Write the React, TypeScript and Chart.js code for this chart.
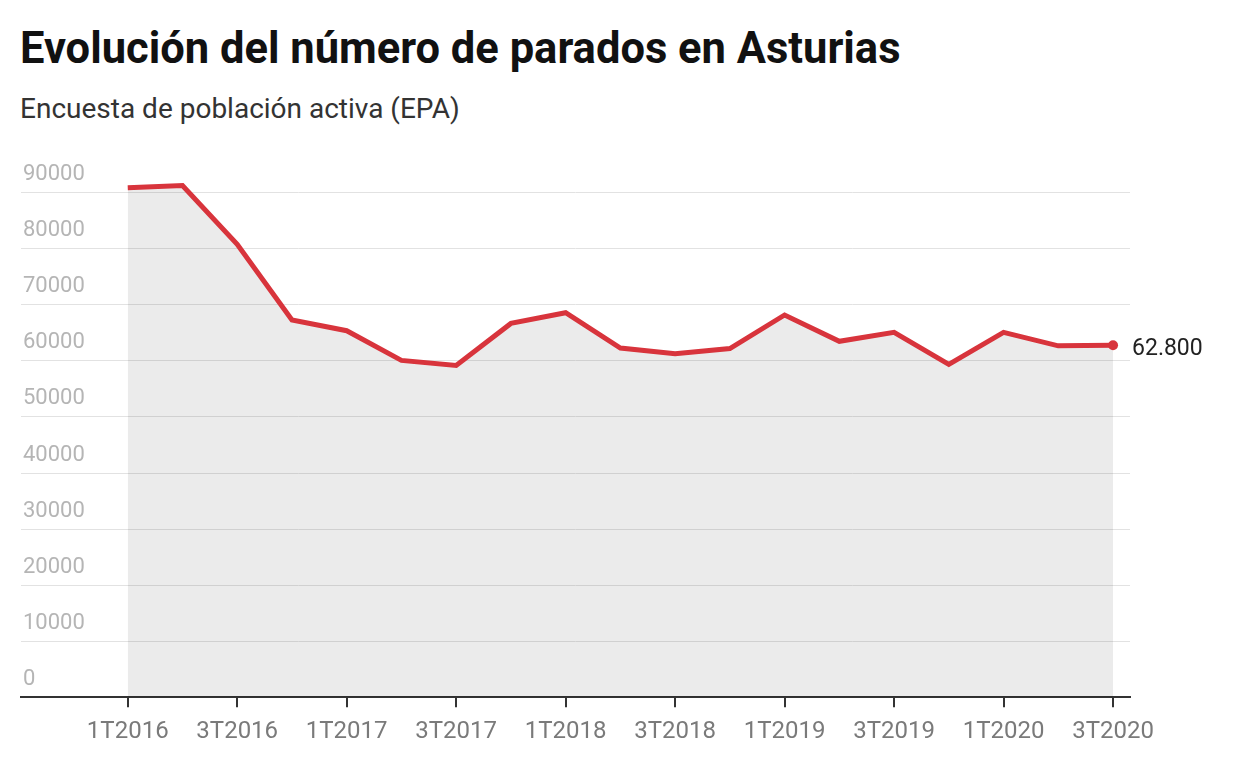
import React, { useEffect, useRef } from "react";
import { Chart, registerables } from "chart.js";

Chart.register(...registerables);

const TITLE = "Evolución del número de parados en Asturias";
const SUBTITLE = "Encuesta de población activa (EPA)";

const quarters = [
  "1T2016", "2T2016", "3T2016", "4T2016",
  "1T2017", "2T2017", "3T2017", "4T2017",
  "1T2018", "2T2018", "3T2018", "4T2018",
  "1T2019", "2T2019", "3T2019", "4T2019",
  "1T2020", "2T2020", "3T2020",
];

const parados = [
  90900, 91300, 80800, 67300,
  65400, 60100, 59200, 66700,
  68600, 62300, 61300, 62200,
  68200, 63500, 65100, 59400,
  65100, 62700, 62800,
];

const yTicks = [0, 10000, 20000, 30000, 40000, 50000, 60000, 70000, 80000, 90000];

const RED = "#d8343c";

function formatEs(v: number): string {
  return String(Math.round(v)).replace(/\B(?=(\d{3})+(?!\d))/g, ".");
}

const endLabelPlugin = {
  id: "endLabel",
  afterDatasetsDraw(chart: any) {
    const meta = chart.getDatasetMeta(0);
    const pts = meta.data;
    if (!pts || !pts.length) return;
    const last = pts[pts.length - 1];
    const ds = chart.data.datasets[0].data;
    const v = ds[ds.length - 1].y;
    const ctx = chart.ctx;
    ctx.save();
    ctx.font = "400 23px Roboto";
    ctx.fillStyle = "#222222";
    ctx.textAlign = "left";
    ctx.textBaseline = "middle";
    ctx.fillText(formatEs(v), last.x + 19, last.y + 4);
    ctx.restore();
  },
};

export default function App() {
  const canvasRef = useRef<HTMLCanvasElement | null>(null);

  useEffect(() => {
    if (!canvasRef.current) return;
    const points = parados.map((v, i) => ({ x: i, y: v }));
    const radii = parados.map((_, i) => (i === parados.length - 1 ? 5 : 0));
    const chart = new Chart(canvasRef.current, {
      type: "line",
      data: {
        datasets: [
          {
            data: points,
            borderColor: RED,
            borderWidth: 5,
            backgroundColor: "rgba(0,0,0,0.08)",
            fill: "origin",
            tension: 0,
            pointRadius: radii,
            pointHoverRadius: radii,
            pointBackgroundColor: RED,
            pointBorderWidth: 0,
            borderJoinStyle: "miter",
          } as any,
        ],
      },
      options: {
        animation: false,
        responsive: false,
        maintainAspectRatio: false,
        events: [],
        layout: { padding: { left: 17, right: 118, top: 176, bottom: 14 } },
        plugins: {
          legend: { display: false },
          tooltip: { enabled: false },
          title: { display: false },
        },
        scales: {
          x: {
            type: "linear",
            min: -1.95,
            max: 18.31,
            afterBuildTicks: (scale: any) => {
              scale.ticks = quarters
                .map((_, i) => i)
                .filter((i) => i % 2 === 0)
                .map((i) => ({ value: i }));
            },
            ticks: {
              autoSkip: false,
              maxRotation: 0,
              padding: 10,
              color: "#7a7a7a",
              font: { family: "Roboto", size: 24 },
              callback: (value: any) => quarters[Number(value)] ?? "",
            },
            grid: {
              drawOnChartArea: false,
              drawTicks: true,
              tickLength: 10,
              color: "#333333",
              lineWidth: 2,
            },
            border: { display: true, color: "#333333", width: 2 },
          },
          y: {
            type: "linear",
            min: 0,
            max: 93000,
            afterBuildTicks: (scale: any) => {
              scale.ticks = yTicks.map((v) => ({ value: v }));
            },
            ticks: {
              mirror: true,
              padding: 2,
              labelOffset: -18,
              color: "#b5b5b5",
              font: { family: "Roboto", size: 22 },
              callback: (value: any) => String(value),
            },
            grid: {
              drawTicks: false,
              color: "#e2e2e2",
              lineWidth: 1,
            },
            border: { display: false },
          },
        },
      },
      plugins: [endLabelPlugin],
    });
    return () => chart.destroy();
  }, []);

  return (
    <div
      style={{
        position: "fixed",
        left: 0,
        top: 0,
        width: 1248,
        height: 770,
        background: "#ffffff",
        overflow: "hidden",
      }}
    >
      <div
        style={{
          position: "absolute",
          left: 20,
          top: 27,
          fontFamily: "Roboto",
          fontWeight: 700,
          fontSize: 43.5,
          lineHeight: 1,
          color: "#111111",
          whiteSpace: "nowrap",
        }}
      >
        {TITLE}
      </div>
      <div
        style={{
          position: "absolute",
          left: 20,
          top: 95,
          fontFamily: "Roboto",
          fontWeight: 400,
          fontSize: 28,
          lineHeight: 1,
          color: "#333333",
          whiteSpace: "nowrap",
        }}
      >
        {SUBTITLE}
      </div>
      <canvas
        ref={canvasRef}
        width={1248}
        height={770}
        style={{ position: "absolute", left: 0, top: 0, width: 1248, height: 770 }}
      />
    </div>
  );
}
